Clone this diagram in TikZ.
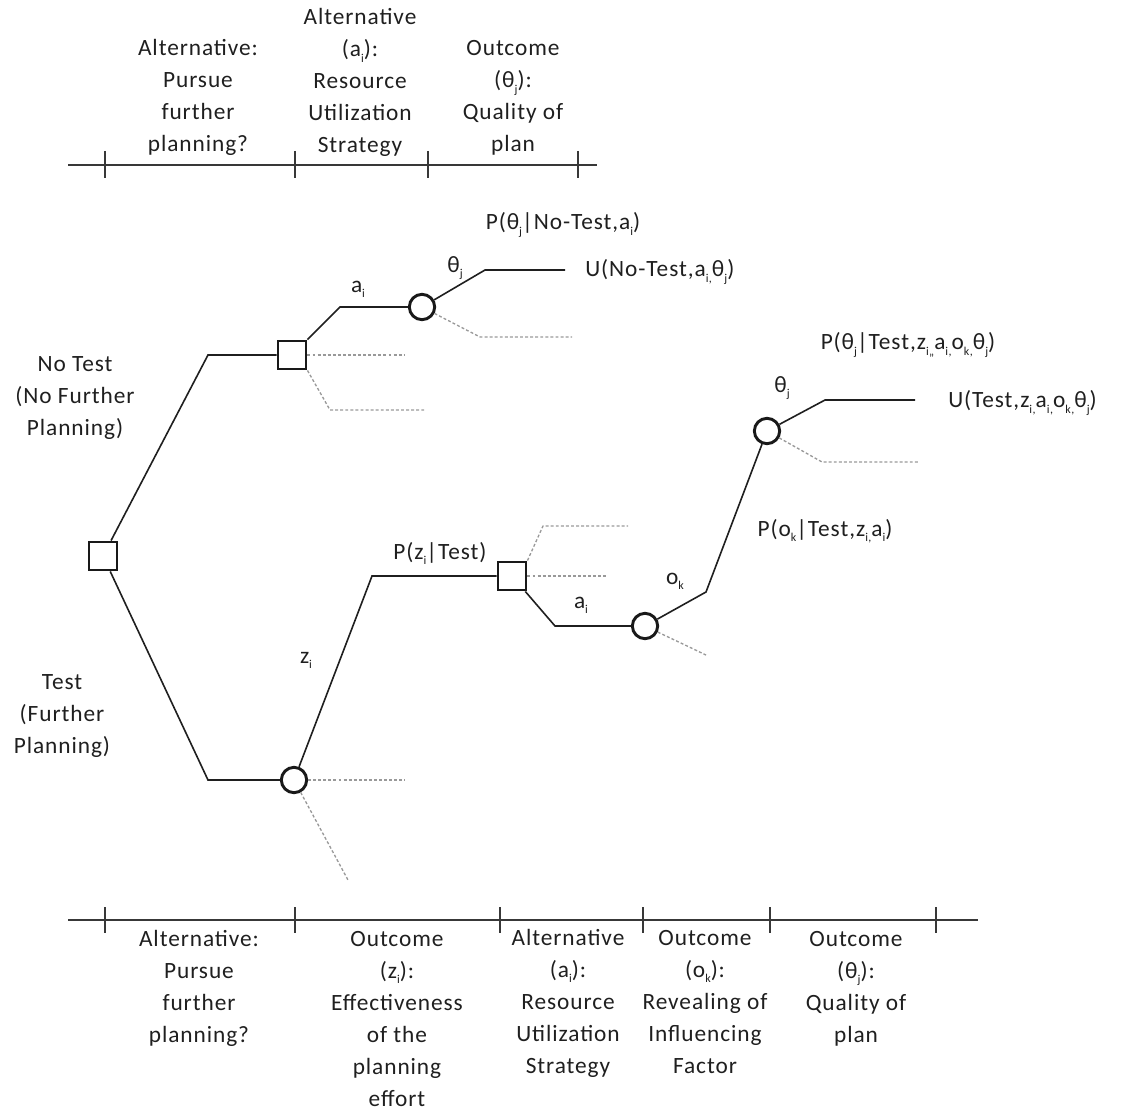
\documentclass[tikz,border=0pt]{standalone}
\usepackage{fontspec}
\setmainfont[LetterSpace=4]{Carlito}
\begin{document}
\begin{tikzpicture}[x=0.75pt,y=-0.75pt,
  txt/.style={font=\fontsize{17.5}{24}\selectfont, text=black!88, inner sep=0pt, align=center},
  dec/.style={draw=black!90, line width=2.2pt, rectangle, minimum size=21pt, inner sep=0pt, fill=white},
  chance/.style={draw=black!90, line width=2.2pt, circle, minimum size=19pt, inner sep=0pt, fill=white},
  branch/.style={draw=black!88, line width=1.2pt},
  ghost/.style={draw=black!40, line width=1pt, dash pattern=on 2.2pt off 1.6pt},
  axis/.style={draw=black!78, line width=1.2pt},
  tick/.style={draw=black!78, line width=1.2pt}]
\useasboundingbox (0,0) rectangle (1130,1112);
\newcommand{\sub}[1]{\raisebox{-0.45ex}{\fontsize{9}{9}\selectfont #1}}

% ---------- top time line ----------
\draw[axis] (68,165) -- (597,165);
\foreach \x in {105,295,428,578} \draw[tick] (\x,151) -- (\x,178);
% multi-line nodes: the base anchor sits on the last line
\node[txt,anchor=base] (h1) at (198,152) {Alternative:\\Pursue\\further\\planning?};
\node[txt,anchor=base] (h2) at (360,153) {Alternative\\(a\sub{i}):\\Resource\\Utilization\\Strategy};
\node[txt,anchor=base] (h3) at (513,152) {Outcome\\(θ\sub{j}):\\Quality of\\plan};

% ---------- bottom time line ----------
\draw[axis] (68,920) -- (978,920);
\foreach \x in {105,295,500,643,770,936} \draw[tick] (\x,907) -- (\x,933);
\node[txt,anchor=base] (b1) at (199,1042) {Alternative:\\Pursue\\further\\planning?};
\node[txt,anchor=base] (b2) at (397,1106) {Outcome\\(z\sub{i}):\\Effectiveness\\of the\\planning\\effort};
\node[txt,anchor=base] (b3) at (568,1073) {Alternative\\(a\sub{i}):\\Resource\\Utilization\\Strategy};
\node[txt,anchor=base] (b4) at (705,1073) {Outcome\\(o\sub{k}):\\Revealing of\\Influencing\\Factor};
\node[txt,anchor=base] (b5) at (856,1042) {Outcome\\(θ\sub{j}):\\Quality of\\plan};

% ---------- decision and chance nodes ----------
\node[dec] (root) at (103,556) {};
\node[dec] (nt) at (292,355) {};
\node[chance] (ntc) at (422,307) {};
\node[chance] (tc) at (294,780) {};
\node[dec] (td) at (512,576) {};
\node[chance] (toc) at (645,626) {};
\node[chance] (tqc) at (767,431) {};

% bend points and free ends
\coordinate (k1) at (208,355);
\coordinate (k2) at (208,780);
\coordinate (k3) at (340,307);
\coordinate (k4) at (485,270);
\coordinate (e1) at (565,270);
\coordinate (k5) at (372,576);
\coordinate (k6) at (555,626);
\coordinate (k7) at (706,592);
\coordinate (k8) at (825,400);
\coordinate (e2) at (915,400);

% ---------- solid branches ----------
\draw[branch] (root) -- (k1) -- (nt);
\draw[branch] (root) -- (k2) -- (tc);
\draw[branch] (nt) -- (k3) -- (ntc);
\draw[branch] (ntc) -- (k4) -- (e1);
\draw[branch] (tc) -- (k5) -- (td);
\draw[branch] (td) -- (k6) -- (toc);
\draw[branch] (toc) -- (k7) -- (tqc);
\draw[branch] (tqc) -- (k8) -- (e2);

% ---------- omitted (grey) branches ----------
\draw[ghost] (nt) -- (405,355);
\draw[ghost] (nt.south east) -- (330,410) -- (425,410);
\draw[ghost] (ntc) -- (480,337) -- (572,337);
\draw[ghost] (tc) -- (405,780);
\draw[ghost] (tc) -- (348,880);
\draw[ghost] (td.north east) -- (543,526) -- (628,526);
\draw[ghost] (td) -- (606,576);
\draw[ghost] (toc) -- (706,655);
\draw[ghost] (tqc) -- (822,462) -- (918,462);

% ---------- labels ----------
\node[txt] (lnt) at (75,398) {No Test\\(No Further\\Planning)};
\node[txt] (lt) at (62,716) {Test\\(Further\\Planning)};
\node[txt] (la1) at (358,289) {a\sub{i}};
\node[txt] (lq1) at (455,268) {θ\sub{j}};
\node[txt] (lp1) at (563,225) {P(θ\sub{j}|No-Test,a\sub{i})};
\node[txt,anchor=west] (lu1) at (585,272) {U(No-Test,a\sub{i,}θ\sub{j})};
\node[txt] (lz) at (306,660) {z\sub{i}};
\node[txt] (lpz) at (440,553) {P(z\sub{i}|Test)};
\node[txt] (la2) at (581,605) {a\sub{i}};
\node[txt] (lo) at (675,581) {o\sub{k}};
\node[txt] (lpo) at (825,531) {P(o\sub{k}|Test,z\sub{i,}a\sub{i})};
\node[txt] (lq2) at (782,388) {θ\sub{j}};
\node[txt] (lp2) at (908,345) {P(θ\sub{j}|Test,z\sub{i,,}a\sub{i,}o\sub{k,}θ\sub{j})};
\node[txt,anchor=west] (lu2) at (948,403) {U(Test,z\sub{i,}a\sub{i,}o\sub{k,}θ\sub{j})};
\end{tikzpicture}
\end{document}
